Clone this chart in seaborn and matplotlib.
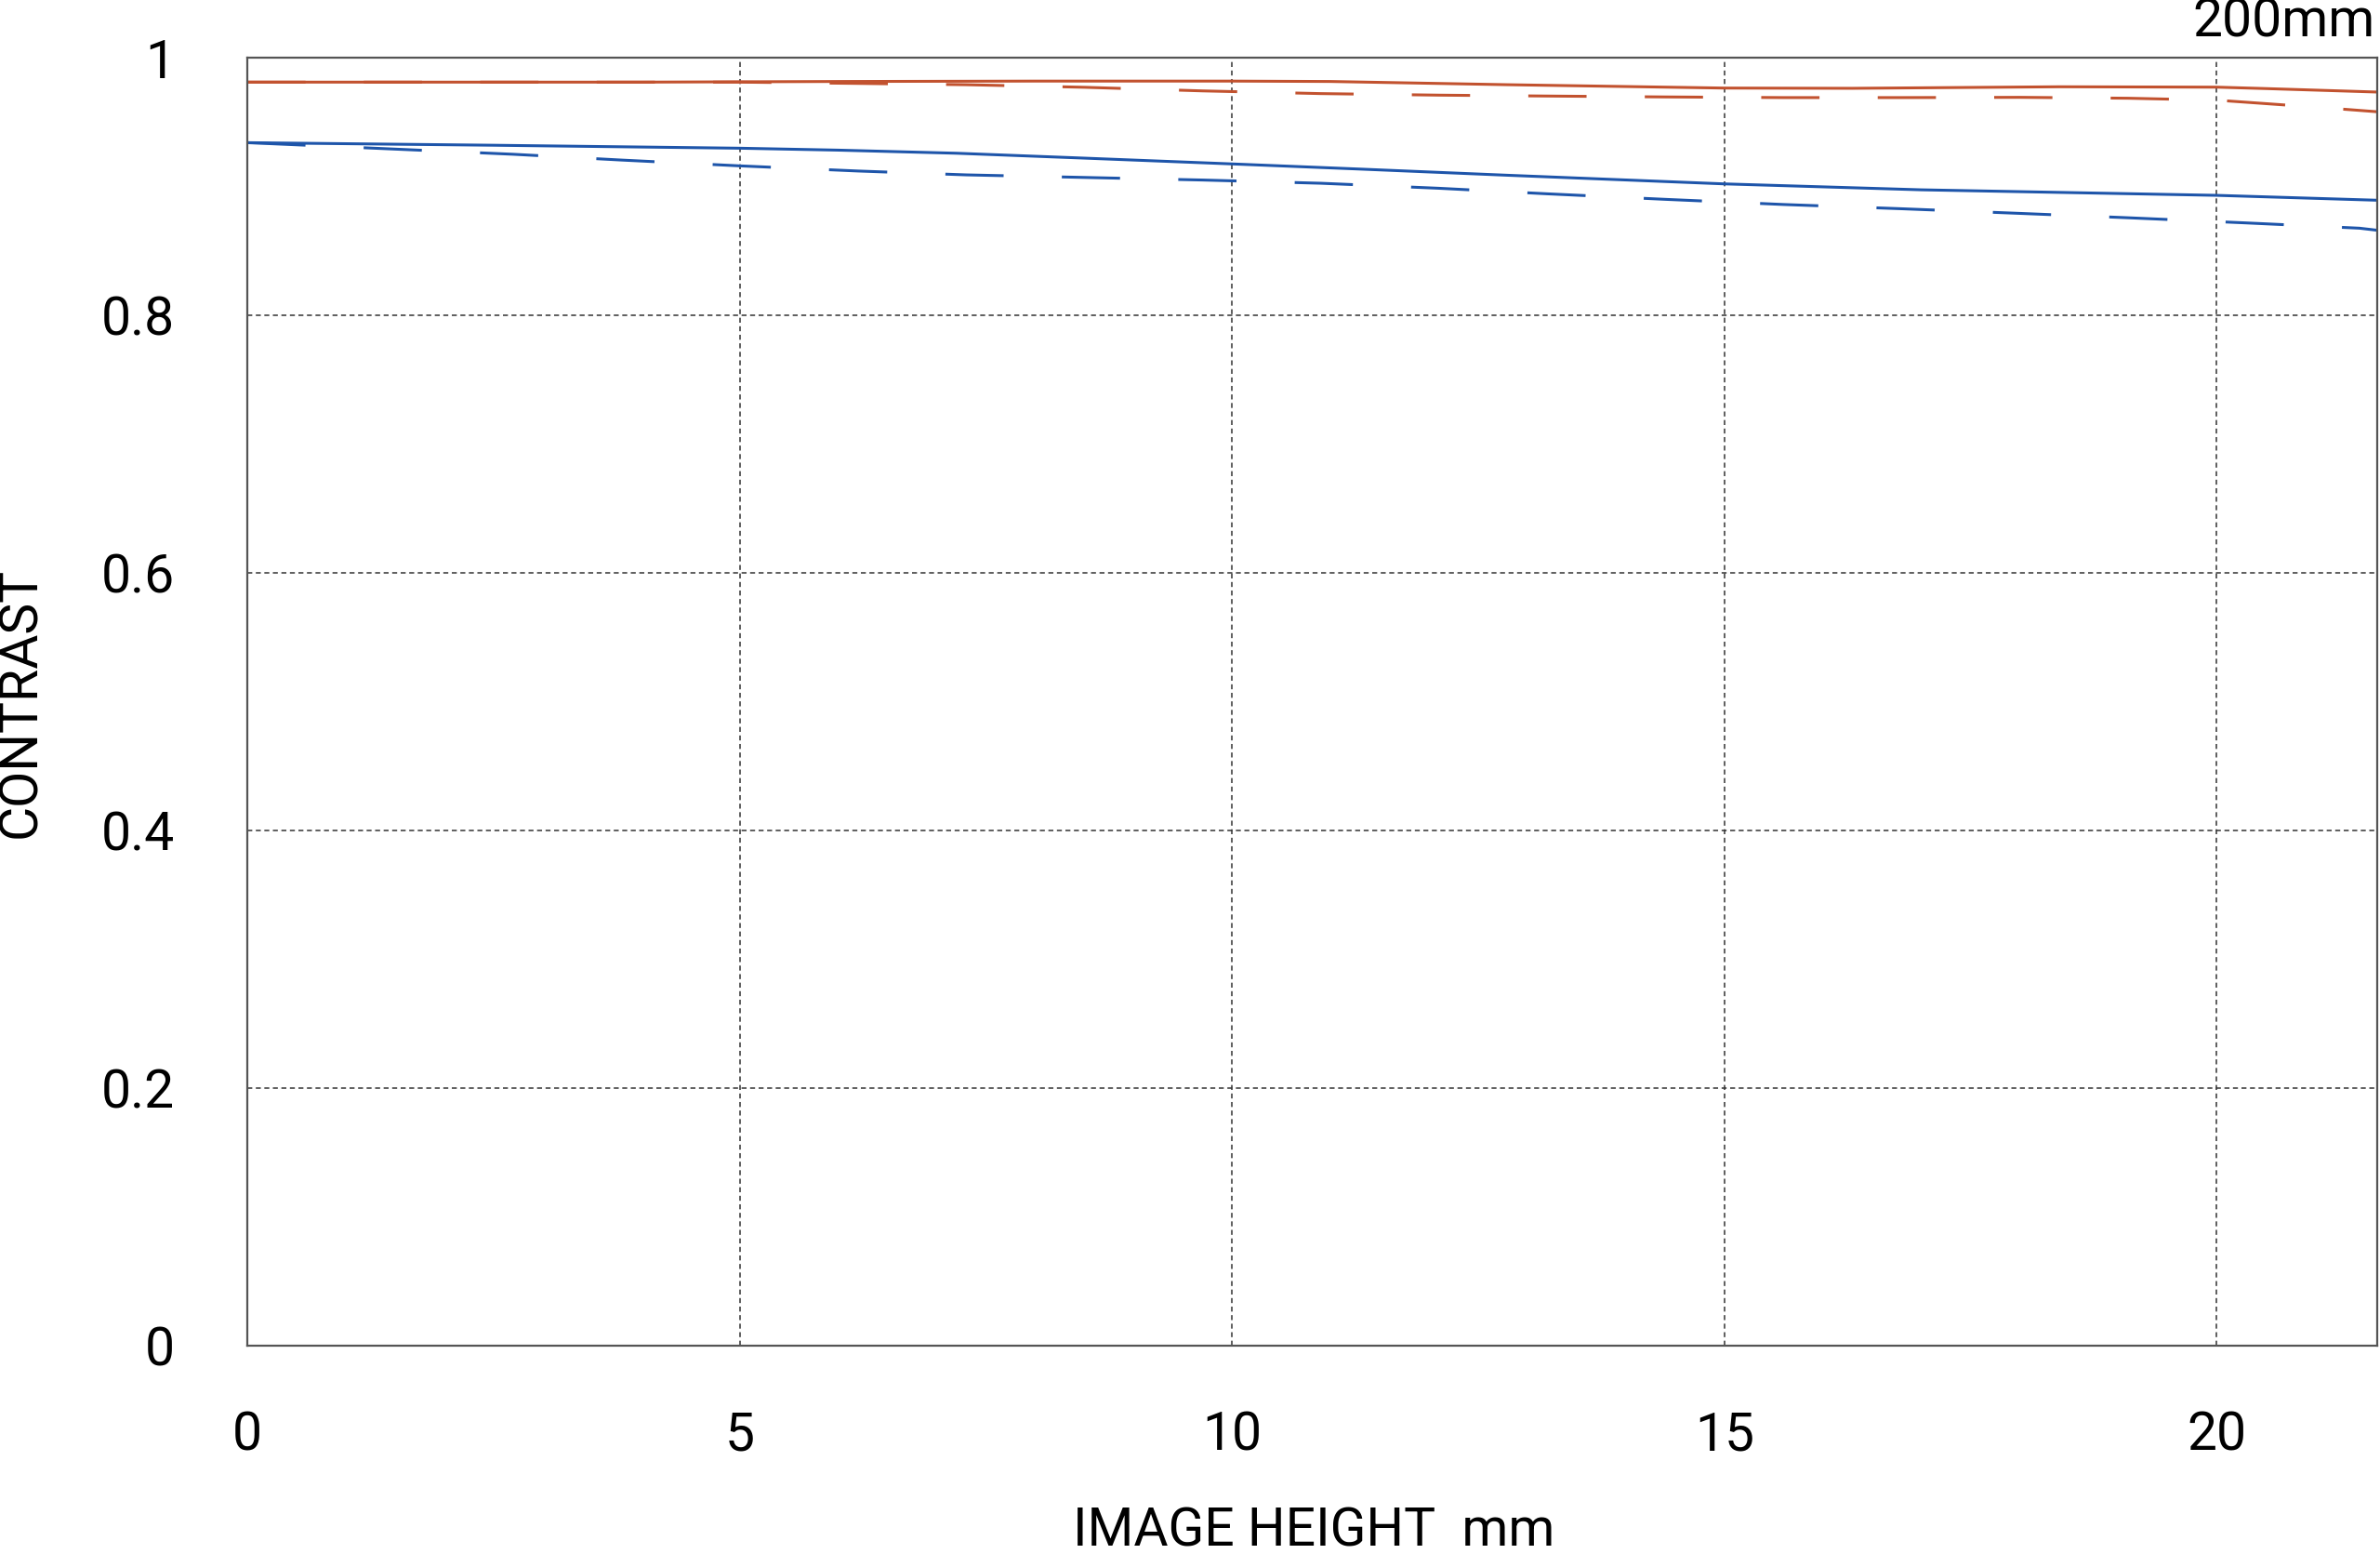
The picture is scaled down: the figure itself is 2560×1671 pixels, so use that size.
import matplotlib
matplotlib.use("Agg")
import matplotlib.pyplot as plt
import seaborn as sns

# ---- data ----
x_red_solid = [0, 2, 4, 6, 8, 10, 11, 12.8, 15, 16.3, 18.4, 20, 20.5, 21.63]
red_solid = [0.981, 0.981, 0.981, 0.9815, 0.9818, 0.9818, 0.9815, 0.979, 0.9764,
             0.9762, 0.9774, 0.9771, 0.976, 0.9733]

x_red_dash = [0, 2, 4, 5, 6.2, 7.3, 8.5, 9.7, 10.9, 12.1, 13.2, 14.4, 15.6, 16.8,
              18, 19.1, 20, 20.3, 21.2, 21.63]
red_dash = [0.981, 0.981, 0.981, 0.981, 0.980, 0.979, 0.977, 0.9742, 0.9721, 0.9709,
            0.9702, 0.9695, 0.969, 0.969, 0.9692, 0.9685, 0.967, 0.9654, 0.9605, 0.958]

x_blue_solid = [0, 2.5, 5, 6, 7.2, 8.5, 10, 11.3, 12.8, 15, 17, 20, 21.63]
blue_solid = [0.934, 0.932, 0.9297, 0.9282, 0.9258, 0.922, 0.9175, 0.9135, 0.9087,
              0.902, 0.8974, 0.8931, 0.8893]

x_blue_dash = [0, 0.3, 1.5, 2.7, 3.8, 5, 6.2, 7.3, 8.5, 9.7, 10.9, 12.1, 13.2, 14.4,
               15.6, 16.8, 18, 19.1, 20.3, 21.45, 21.63]
blue_dash = [0.934, 0.933, 0.929, 0.925, 0.9205, 0.916, 0.912, 0.909, 0.907, 0.905,
             0.9025, 0.8986, 0.8943, 0.89, 0.886, 0.8827, 0.8791, 0.8757, 0.8717,
             0.8676, 0.866]

x_ticks = [0, 5, 10, 15, 20]
x_tick_labels = ["0", "5", "10", "15", "20"]
y_ticks = [0, 0.2, 0.4, 0.6, 0.8, 1.0]
y_tick_labels = ["0", "0.2", "0.4", "0.6", "0.8", "1"]

RED = "#C2522F"
BLUE = "#1E55AA"

sns.set_style("white")
plt.rcParams["font.family"] = ["Roboto", "DejaVu Sans"]

fig = plt.figure(figsize=(25.6, 16.71), dpi=100)
ax = fig.add_axes([266 / 2560, 1 - 1447 / 1671, (2557 - 266) / 2560, (1447 - 62) / 1671])

lw = 2.2
dash = (0, (20.5, 20.5))
sns.lineplot(x=x_red_solid, y=red_solid, color=RED, linewidth=lw, ax=ax, sort=False)
sns.lineplot(x=x_red_dash, y=red_dash, color=RED, linewidth=lw, ax=ax, sort=False,
             linestyle=dash)
sns.lineplot(x=x_blue_solid, y=blue_solid, color=BLUE, linewidth=lw, ax=ax, sort=False)
sns.lineplot(x=x_blue_dash, y=blue_dash, color=BLUE, linewidth=lw, ax=ax, sort=False,
             linestyle=dash)

ax.set_xlim(0, 21.63)
ax.set_ylim(0, 1)
ax.set_xticks(x_ticks)
ax.set_xticklabels(x_tick_labels)
ax.set_yticks(y_ticks)
ax.set_yticklabels(y_tick_labels)
ax.tick_params(axis="both", length=0, labelsize=41, colors="black")
ax.tick_params(axis="x", pad=50)
ax.tick_params(axis="y", pad=56)

ax.grid(True, color="#333333", linewidth=1.1, linestyle=(0, (3.5, 2.5)))
ax.set_axisbelow(True)
for s in ax.spines.values():
    s.set_visible(True)
    s.set_color("#555555")
    s.set_linewidth(1.6)

ax.set_xlabel("")
ax.set_ylabel("")
fig.text(1413 / 2560, 1 - 1647 / 1671, "IMAGE HEIGHT  mm", ha="center", va="center",
         fontsize=41, color="black")
fig.text(23 / 2560, 1 - 755 / 1671, "CONTRAST", ha="center", va="center",
         rotation=90, fontsize=41, color="black")
fig.text(2555 / 2560, 1 - 24 / 1671, "200mm", ha="right", va="center",
         fontsize=41, color="black")

fig.savefig("out.png", dpi=100, facecolor="white")
